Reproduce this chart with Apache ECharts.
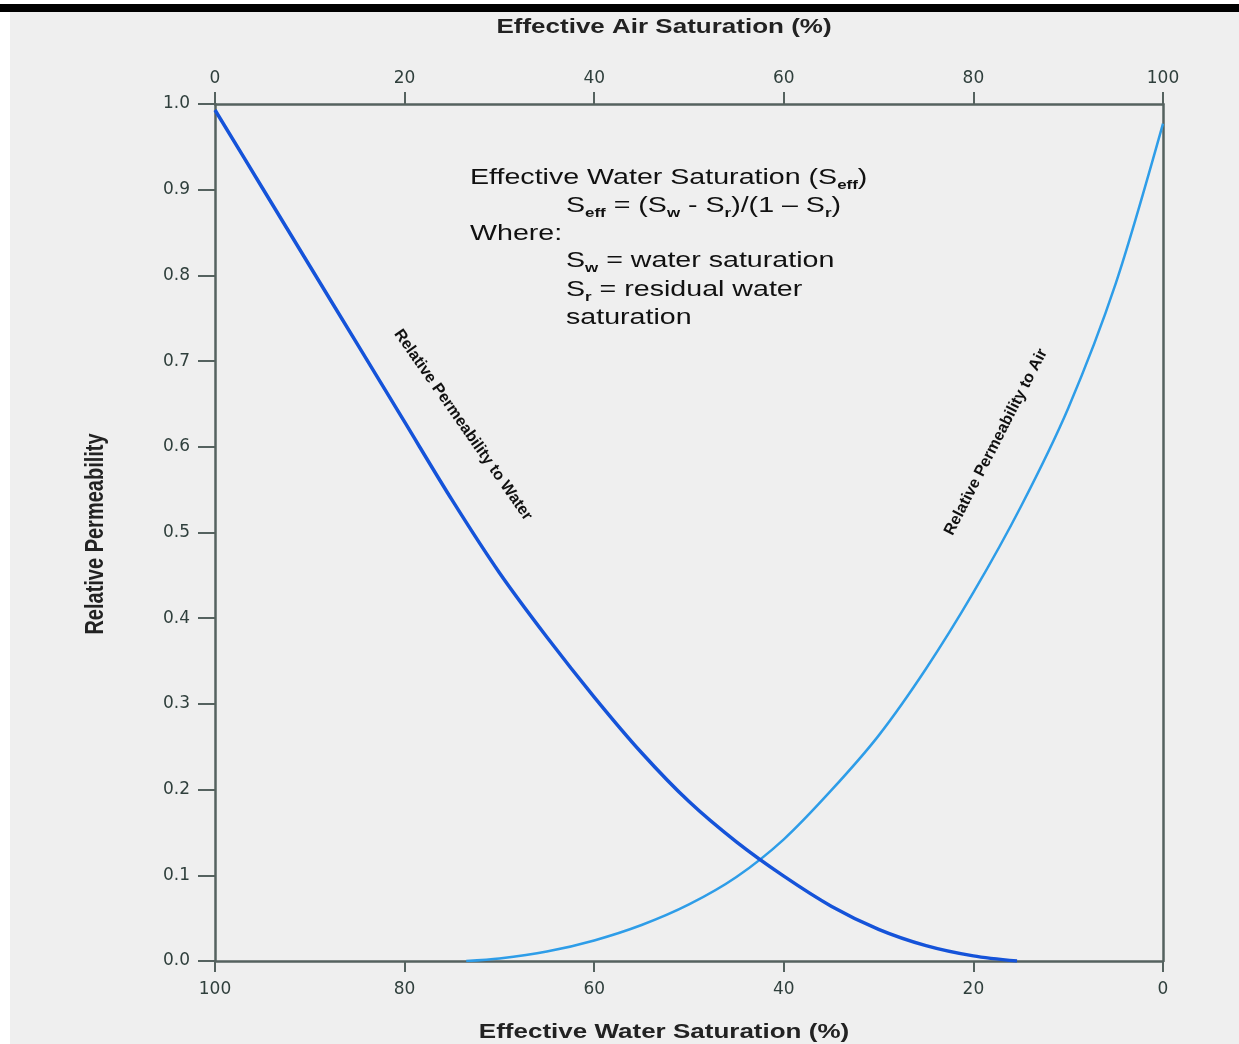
<!DOCTYPE html>
<html>
<head>
<meta charset="utf-8">
<script src="https://cdn.jsdelivr.net/npm/echarts@6/dist/echarts.min.js"></script>
<style>
    html, body { margin: 0; padding: 0; background: #ffffff; }
    #chart { width: 1239px; height: 1044px; }
</style>
</head>
<body>
<div id="chart"></div>
<script>
    // 曲线数据: [有效含水饱和度 %, 相对渗透率]
    var waterSat = [100, 95, 90, 85, 80, 75, 70, 65, 60, 55, 50, 45, 40, 35, 30, 25, 20, 15.4];
    var krWater = [0.993, 0.902, 0.811, 0.72, 0.629, 0.538, 0.453, 0.378, 0.308, 0.243, 0.186, 0.139, 0.099, 0.064, 0.037, 0.018, 0.006, 0.0];

    var airCurveSat = [73.5, 70, 65, 60, 55, 50, 45, 40, 35, 30, 25, 20, 15, 10, 5, 0];
    var krAir = [0.0, 0.003, 0.011, 0.024, 0.042, 0.066, 0.098, 0.142, 0.199, 0.263, 0.341, 0.43, 0.53, 0.645, 0.79, 0.977];

    var xTicks = [0, 20, 40, 60, 80, 100];
    var yTicks = [0, 0.1, 0.2, 0.3, 0.4, 0.5, 0.6, 0.7, 0.8, 0.9, 1.0];

    var pair = function (xs, ys) {
        return xs.map(function (x, i) { return [x, ys[i]]; });
    };

    var axisColor = '#55625f';
    var labelColor = '#2f3f3c';
    var tickFont = 'DejaVu Sans';
    var textFont = 'Liberation Sans';

    var chart = echarts.init(document.getElementById('chart'));

    function textLine(x, y, str) {
        return {
            type: 'text', x: x, y: y, scaleX: 1.3,
            style: {
                text: str,
                fontFamily: textFont, fontSize: 22, fill: '#111',
                lineHeight: 28,
                align: 'left', verticalAlign: 'middle',
                rich: {
                    s: { fontFamily: textFont, fontSize: 13, fontWeight: 'bold', fill: '#111', lineHeight: 28, verticalAlign: 'bottom' }
                }
            }
        };
    }

    var option = {
        backgroundColor: '#ffffff',
        animation: false,
        grid: { left: 215, right: 76, top: 104, bottom: 83 },
        xAxis: [{
            // 底部: 有效含水饱和度, 100 -> 0
            type: 'value',
            position: 'bottom',
            inverse: true,
            min: xTicks[0], max: xTicks[xTicks.length - 1], interval: 20,
            axisLine: { onZero: false, lineStyle: { color: axisColor, width: 2.5 } },
            axisTick: { show: true, length: 11, lineStyle: { color: axisColor, width: 2 } },
            axisLabel: { color: labelColor, fontFamily: tickFont, fontSize: 17, margin: 20 },
            splitLine: { show: false }
        }, {
            // 顶部: 有效空气饱和度, 0 -> 100
            type: 'value',
            position: 'top',
            min: xTicks[0], max: xTicks[xTicks.length - 1], interval: 20,
            axisLine: { onZero: false, lineStyle: { color: axisColor, width: 2.5 } },
            axisTick: { show: true, length: 12, lineStyle: { color: axisColor, width: 2 } },
            axisLabel: { color: labelColor, fontFamily: tickFont, fontSize: 17, margin: 17 },
            splitLine: { show: false }
        }],
        yAxis: [{
            type: 'value',
            position: 'left',
            min: yTicks[0], max: yTicks[yTicks.length - 1], interval: 0.1,
            axisLine: { show: true, onZero: false, lineStyle: { color: axisColor, width: 2.5 } },
            axisTick: { show: true, length: 17, lineStyle: { color: axisColor, width: 2 } },
            axisLabel: {
                color: labelColor, fontFamily: tickFont, fontSize: 17, margin: 25,
                formatter: function (v) { return v.toFixed(1); }
            },
            splitLine: { show: false }
        }, {
            type: 'value',
            position: 'right',
            min: 0, max: 1, interval: 0.1,
            axisLine: { show: true, onZero: false, lineStyle: { color: axisColor, width: 2.5 } },
            axisTick: { show: false },
            axisLabel: { show: false },
            splitLine: { show: false }
        }],
        series: [{
            name: 'Relative Permeability to Water',
            type: 'line',
            xAxisIndex: 0,
            yAxisIndex: 0,
            data: pair(waterSat, krWater),
            smooth: 0.3,
            symbol: 'none',
            lineStyle: { color: '#1553d9', width: 3.5 },
            z: 3
        }, {
            name: 'Relative Permeability to Air',
            type: 'line',
            xAxisIndex: 0,
            yAxisIndex: 0,
            data: pair(airCurveSat, krAir),
            smooth: 0.3,
            symbol: 'none',
            lineStyle: { color: '#2e9de8', width: 2.5 },
            z: 2
        }],
        graphic: [
            // 背景与顶部黑条
            { type: 'rect', shape: { x: 10, y: 11, width: 1229, height: 1033 }, style: { fill: '#efefef' }, z: -10, silent: true },
            { type: 'rect', shape: { x: 0, y: 4, width: 1239, height: 8 }, style: { fill: '#000000' }, z: -9, silent: true },
            // 轴标题
            { type: 'text', x: 664, y: 27, scaleX: 1.3, style: { text: 'Effective Air Saturation (%)', font: 'bold 20px "Liberation Sans"', fill: '#222', align: 'center', verticalAlign: 'middle' } },
            { type: 'text', x: 664, y: 1032, scaleX: 1.3, style: { text: 'Effective Water Saturation (%)', font: 'bold 20px "Liberation Sans"', fill: '#222', align: 'center', verticalAlign: 'middle' } },
            { type: 'text', x: 96, y: 534, rotation: Math.PI / 2, scaleY: 1.25, style: { text: 'Relative Permeability', font: 'bold 20px "Liberation Sans"', fill: '#222', align: 'center', verticalAlign: 'middle' } },
            // 曲线标注
            { type: 'text', x: 463, y: 425, rotation: -55 * Math.PI / 180, style: { text: 'Relative Permeability to Water', font: 'bold 16px "Liberation Sans"', fill: '#111', align: 'center', verticalAlign: 'middle' } },
            { type: 'text', x: 996, y: 442, rotation: 62.8 * Math.PI / 180, style: { text: 'Relative Permeability to Air', font: 'bold 16px "Liberation Sans"', fill: '#111', align: 'center', verticalAlign: 'middle' } },
            // 公式说明
            textLine(470, 178, 'Effective Water Saturation (S{s|eff})'),
            textLine(566, 206, 'S{s|eff} = (S{s|w} - S{s|r})/(1 \u2013 S{s|r})'),
            textLine(470, 234, 'Where:'),
            textLine(566, 261, 'S{s|w} = water saturation'),
            textLine(566, 290, 'S{s|r} = residual water'),
            textLine(566, 318, 'saturation')
        ]
    };

    chart.setOption(option);
</script>
</body>
</html>
